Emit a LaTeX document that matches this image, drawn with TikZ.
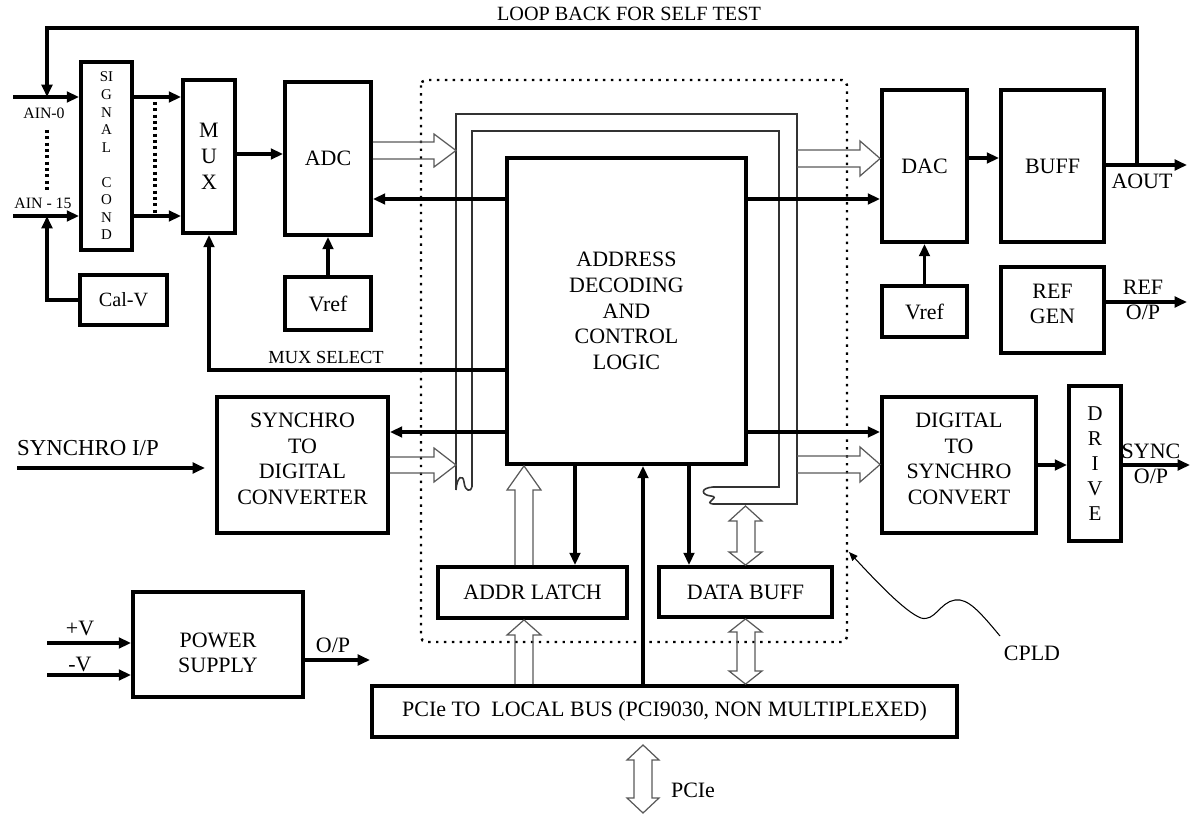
\documentclass[tikz,border=0pt]{standalone}
\usepackage{fontspec}
\setmainfont{Liberation Serif}
\usetikzlibrary{arrows.meta}

\begin{document}
\begin{tikzpicture}[x=0.02cm, y=-0.02cm,
    box/.style={draw, line width=2.2pt, inner sep=0pt, align=center, font=\fontsize{12.5}{14.7}\selectfont},
    arr/.style={line width=1.8pt, -{Triangle[length=7pt,width=6pt]}},
    bus/.style={line width=0.9pt, draw=black!80},
    hollow/.style={line width=0.7pt, draw=black!65},
    dotline/.style={line width=1.8pt, dash pattern=on 1.8pt off 1.8pt},
    lbl/.style={font=\fontsize{12.5}{14.5}\selectfont, inner sep=0pt, align=center},
    small/.style={font=\fontsize{9}{10}\selectfont, inner sep=0pt}]

    \useasboundingbox (0,0) rectangle (1193,814);

    % CPLD boundary
    \draw[line width=1.4pt, dash pattern=on 1.4pt off 3.1pt, rounded corners=3pt] (421,80) rectangle (847,642);

    % blocks
    \node[box, minimum width=1.02cm, minimum height=3.76cm, font=\fontsize{8.5}{10}\selectfont] (sigcond) at (106.5,156) {SI\\G\\N\\A\\L\\[10pt]C\\O\\N\\D};
    \node[box, minimum width=1.74cm, minimum height=1cm, font=\fontsize{11.5}{13}\selectfont] (calv) at (123.5,300) {Cal-V};
    \node[box, minimum width=1.04cm, minimum height=3.06cm] (mux) at (209,156.5) {M\\U\\X};
    \node[box, minimum width=1.72cm, minimum height=3.06cm] (adc) at (328,158.5) {ADC};
    \node[box, minimum width=1.72cm, minimum height=1.06cm] (vrefa) at (328,303.5) {Vref};
    \node[box, minimum width=4.78cm, minimum height=6.12cm] (logic) at (626.5,311) {ADDRESS\\DECODING\\AND\\CONTROL\\LOGIC};
    \node[box, minimum width=1.70cm, minimum height=3.04cm] (dac) at (924.5,166) {DAC};
    \node[box, minimum width=2.06cm, minimum height=3.04cm] (buff) at (1052.5,166) {BUFF};
    \node[box, minimum width=1.70cm, minimum height=1.02cm] (vrefd) at (924.5,311.5) {Vref};
    \node[box, minimum width=2.06cm, minimum height=1.72cm] (refgen) at (1052.5,310) {};
    \node[box, minimum width=3.42cm, minimum height=2.72cm] (sdc) at (302.5,465) {};
    \node[box, minimum width=3.08cm, minimum height=2.72cm] (dsc) at (959,465) {};
    \node[box, minimum width=1.04cm, minimum height=3.10cm, font=\fontsize{12}{14.2}\selectfont] (drive) at (1095,463.5) {D\\R\\I\\V\\E};
    \node[box, minimum width=3.40cm, minimum height=2.10cm] (psu) at (218,644.5) {};
    \node[box, minimum width=3.78cm, minimum height=1.02cm] (latch) at (532.5,592.5) {ADDR LATCH};
    \node[box, minimum width=3.46cm, minimum height=1.00cm] (dbuff) at (745.5,592) {DATA BUFF};
    \node[box, minimum width=11.70cm, minimum height=1.02cm] (pcie) at (664.5,711.5) {PCIe TO\ \ LOCAL BUS (PCI9030, NON MULTIPLEXED)};

    % block texts that sit above centre
    \node[lbl] (refgent) at (1052.5,304) {REF\\GEN};
    \node[lbl] (sdct) at (302.5,459) {SYNCHRO\\TO\\DIGITAL\\CONVERTER};
    \node[lbl] (dsct) at (959,459) {DIGITAL\\TO\\SYNCHRO\\CONVERT};
    \node[lbl] (psut) at (218,653) {POWER\\SUPPLY};

    % free ends
    \coordinate (ain0) at (13,97);
    \coordinate (ain15) at (13,216);
    \coordinate (tap) at (1137,165);
    \coordinate (aout) at (1187,165);
    \coordinate (refout) at (1187,302);
    \coordinate (syncout) at (1190,465);
    \coordinate (synin) at (17,468);
    \coordinate (pv) at (47,643);
    \coordinate (nv) at (47,675);
    \coordinate (psout) at (370,660);

    % local bus
    \draw[bus] (456,490) -- (456,114) -- (797,114) -- (797,504) -- (713,504);
    \draw[bus] (472,487) -- (472,131) -- (779,131) -- (779,487) -- (713,487);
    \draw[bus] (456,490) .. controls (457,476) and (463,474) .. (464,482) .. controls (465,492) and (471,492) .. (472,487);
    \draw[bus] (713,487) .. controls (700,488) and (701,495) .. (711,496) .. controls (721,497) and (703,503) .. (713,504);

    % wide arrows
    \draw[hollow] (adc.east |- 0,142) -- (434,142) -- (434,134) -- (456,150.5) -- (434,167) -- (434,159) -- (adc.east |- 0,159);
    \draw[hollow] (sdc.east |- 0,457) -- (434,457) -- (434,448) -- (456,465) -- (434,482) -- (434,473) -- (sdc.east |- 0,473);
    \draw[hollow] (797,150) -- (860,150) -- (860,141) -- (dac.west |- 0,158.5) -- (860,176) -- (860,167) -- (797,167);
    \draw[hollow] (797,456) -- (860,456) -- (860,447) -- (dsc.west |- 0,464.5) -- (860,482) -- (860,473) -- (797,473);
    \draw[hollow] (latch.north -| 515,0) -- (515,490) -- (507,490) -- (logic.south -| 524,0) -- (541,490) -- (533,490) -- (latch.north -| 533,0);
    \draw[hollow] (pcie.north -| 515,0) -- (515,635) -- (507,635) -- (latch.south -| 524,0) -- (541,635) -- (533,635) -- (pcie.north -| 533,0);
    \draw[hollow] (745.5,506) -- (762,521) -- (755,521) -- (755,552) -- (762,552) -- (dbuff.north) -- (729,552) -- (737,552) -- (737,521) -- (729,521) -- cycle;
    \draw[hollow] (dbuff.south) -- (762,632) -- (755,632) -- (755,671) -- (762,671) -- (pcie.north -| dbuff.south) -- (729,671) -- (737,671) -- (737,632) -- (729,632) -- cycle;
    \draw[hollow] (643,745) -- (659,760) -- (652,760) -- (652,798) -- (659,798) -- (643,813) -- (627,798) -- (634,798) -- (634,760) -- (627,760) -- cycle;

    % analog input side
    \draw[arr] (ain0) -- (sigcond.west |- ain0);
    \draw[arr] (ain15) -- (sigcond.west |- ain15);
    \draw[dotline] (47,130) -- (47,193);
    \draw[arr] (sigcond.east |- ain0) -- (mux.west |- ain0);
    \draw[arr] (sigcond.east |- ain15) -- (mux.west |- ain15);
    \draw[dotline] (155,102) -- (155,213);
    \draw[arr] (calv.west) -| (47,216);
    \draw[arr] (tap) |- (47,28) -- (47,97);
    \draw[arr] (mux.east |- 0,154) -- (adc.west |- 0,154);
    \draw[arr] (vrefa.north) -- (adc.south);

    % control logic
    \draw[arr] (logic.west |- 0,199) -- (adc.east |- 0,199);
    \draw[arr] (logic.east |- 0,199) -- (dac.west |- 0,199);
    \draw[arr] (logic.west |- 0,370) -| (mux.south);
    \draw[arr] (logic.west |- 0,432) -- (sdc.east |- 0,432);
    \draw[arr] (logic.east |- 0,432) -- (dsc.west |- 0,432);
    \draw[arr] (logic.south -| 575,0) -- (latch.north -| 575,0);
    \draw[arr] (logic.south -| 689,0) -- (dbuff.north -| 689,0);
    \draw[arr] (pcie.north -| 643,0) -- (logic.south -| 643,0);

    % output side
    \draw[arr] (vrefd.north) -- (dac.south);
    \draw[arr] (dac.east |- 0,158) -- (buff.west |- 0,158);
    \draw[arr] (buff.east |- tap) -- (aout);
    \draw[arr] (refgen.east |- refout) -- (refout);
    \draw[arr] (dsc.east |- syncout) -- (drive.west |- syncout);
    \draw[arr] (drive.east |- syncout) -- (syncout);
    \draw[arr] (synin) -- (205,468);
    \draw[arr] (pv) -- (psu.west |- pv);
    \draw[arr] (nv) -- (psu.west |- nv);
    \draw[arr] (psu.east |- psout) -- (psout);

    % labels
    \node[lbl, font=\fontsize{11.5}{12}\selectfont] (loopl) at (629,14) {LOOP BACK FOR SELF TEST};
    \node[small] (ain0l) at (44,113) {AIN-0};
    \node[small] (ain15l) at (43,203) {AIN - 15};
    \node[lbl, font=\fontsize{10.5}{11}\selectfont] (muxsel) at (326,357) {MUX SELECT};
    \node[lbl] (aoutl) at (1142,181) {AOUT};
    \node[lbl] (refl) at (1143,300) {REF\\O/P};
    \node[lbl] (syncl) at (1151,464) {SYNC\\O/P};
    \node[lbl, font=\fontsize{13}{14}\selectfont] (synl) at (88,448) {SYNCHRO I/P};
    \node[lbl] (pvl) at (80,628) {+V};
    \node[lbl] (nvl) at (80,664) {-V};
    \node[lbl] (psl) at (333,645) {O/P};
    \node[lbl] (pciel) at (693,790) {PCIe};
    \node[lbl] (cpld) at (1032,653) {CPLD};
    \draw[line width=0.6pt, -{Triangle[length=5pt,width=4pt]}] (1000,636) .. controls (980,612) and (968,598) .. (955,600) .. controls (940,602) and (935,622) .. (921,618) .. controls (905,612) and (875,580) .. (849,552);
\end{tikzpicture}
\end{document}
